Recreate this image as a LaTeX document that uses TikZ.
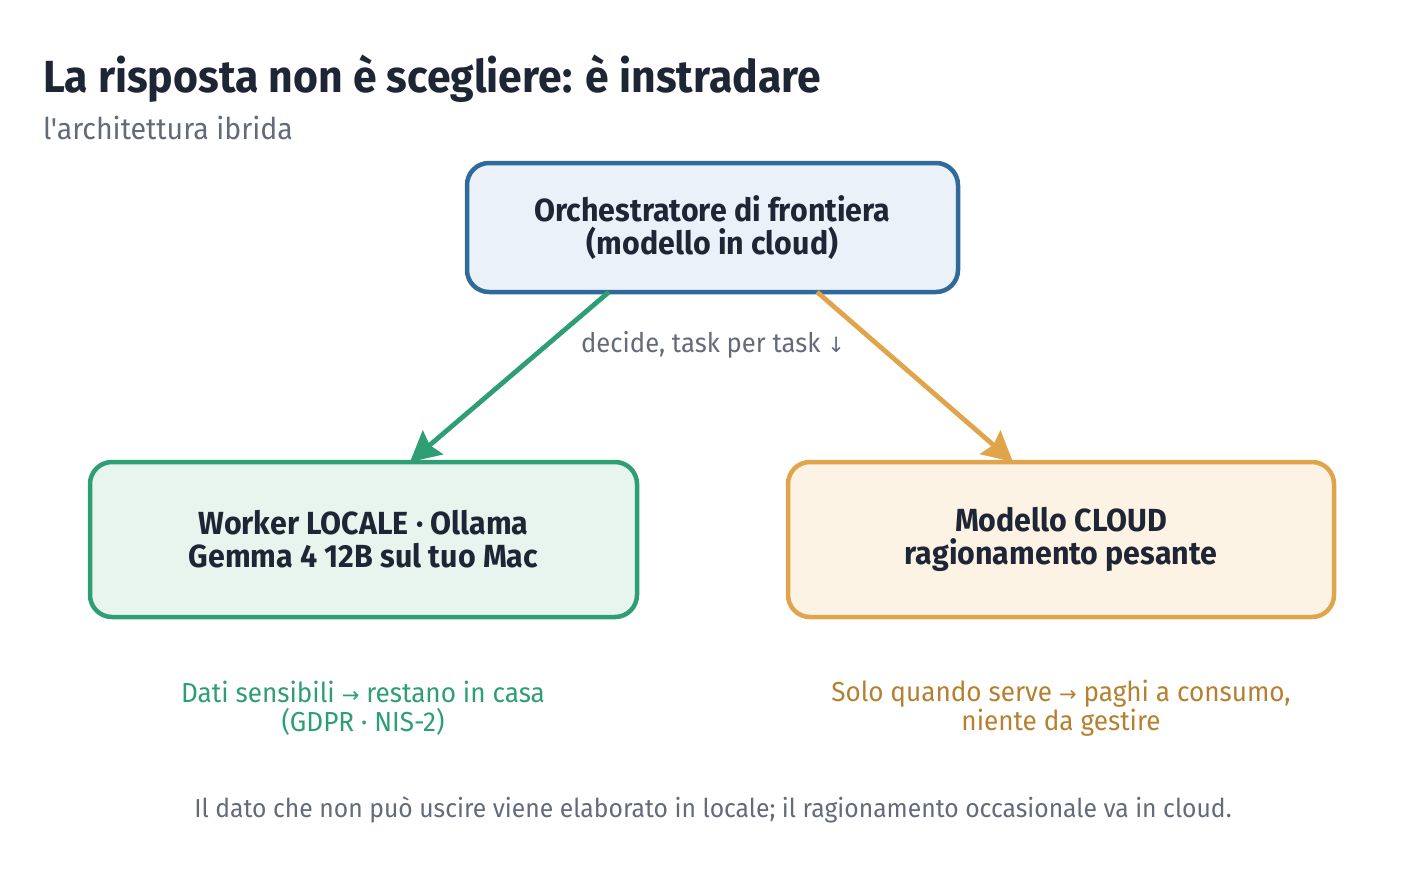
\documentclass[tikz,border=0pt]{standalone}
\usepackage{fontspec}
\setmainfont{Fira Sans}[FakeStretch=0.95]
\newfontfamily\plainfont{Fira Sans}[FakeStretch=0.95]
\newfontfamily\symfont{DejaVu Sans}
\usetikzlibrary{arrows.meta,calc}
\definecolor{inkdark}{HTML}{1E2535}
\definecolor{inkgray}{HTML}{636A7A}
\definecolor{orchline}{HTML}{2F6A9B}
\definecolor{orchfill}{HTML}{EAF1F8}
\definecolor{localline}{HTML}{2E9E74}
\definecolor{localfill}{HTML}{E8F5EE}
\definecolor{cloudline}{HTML}{E0A44B}
\definecolor{cloudfill}{HTML}{FCF3E5}
\definecolor{cloudtext}{HTML}{B5802F}

\begin{document}
\begin{tikzpicture}[
    x=1pt, y=-1pt,
    every node/.style={inner sep=0pt, outer sep=0pt},
    box/.style={draw, line width=4.5pt, rounded corners=22pt, align=center, text=inkdark,
        font=\fontsize{32}{33}\selectfont\bfseries},
    note/.style={align=center, font=\fontsize{27.5}{29}\selectfont},
    flow/.style={-{Stealth[length=30pt, width=31pt, inset=4pt]}, line width=4.8pt}
]
\useasboundingbox (0,0) rectangle (1425,884);
% title and subtitle
\node[anchor=base west, text=inkdark, font=\fontsize{45}{50}\selectfont\bfseries] (title) at (43,92) {La risposta non è scegliere: è instradare};
\node[anchor=base west, text=inkgray, font=\plainfont\fontsize{30}{34}\selectfont] (subtitle) at (43,139) {l'architettura ibrida};
% boxes
\node[box, draw=orchline, fill=orchfill, minimum width=491pt, minimum height=129pt] (orch) at (712.5,227.5) {Orchestratore di frontiera\\(modello in cloud)};
\node[box, draw=localline, fill=localfill, minimum width=547pt, minimum height=155pt] (local) at (363.5,539.5) {Worker LOCALE · Ollama\\Gemma 4 12B sul tuo Mac};
\node[box, draw=cloudline, fill=cloudfill, minimum width=546pt, minimum height=155pt] (cloud) at (1061,539.5) {Modello CLOUD\\ragionamento pesante};
% routing arrows
\draw[flow, localline] ($(orch.south west)!0.289!(orch.south east)$) -- ($(local.north west)!0.585!(local.north east)$);
\draw[flow, cloudline] ($(orch.south west)!0.713!(orch.south east)$) -- ($(cloud.north west)!0.412!(cloud.north east)$);
\node[note, text=inkgray, font=\fontsize{27}{29}\selectfont] (decide) at (713,345) {decide, task per task {\symfont\fontsize{21}{24}\selectfont↓}};
% notes under the boxes
\node[note, text=localline] (localnote) at (363,708) {Dati sensibili {\symfont\fontsize{21}{24}\selectfont→} restano in casa\\(GDPR · NIS-2)};
\node[note, text=cloudtext] (cloudnote) at (1061,708) {Solo quando serve {\symfont\fontsize{21}{24}\selectfont→} paghi a consumo,\\niente da gestire};
% footer
\node[text=inkgray, font=\fontsize{26}{30}\selectfont] (footer) at (713,810) {Il dato che non può uscire viene elaborato in locale; il ragionamento occasionale va in cloud.};
\end{tikzpicture}
\end{document}
